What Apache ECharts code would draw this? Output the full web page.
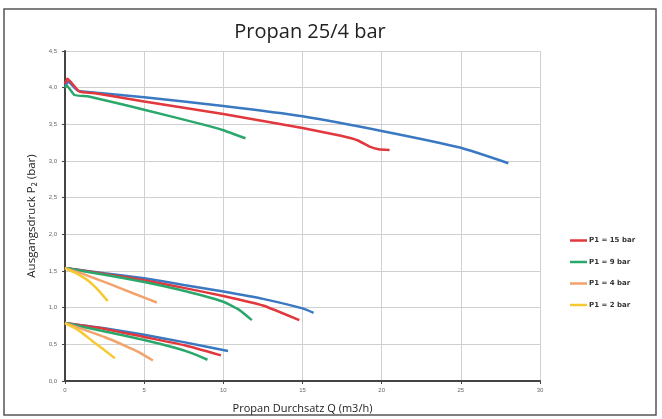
<!DOCTYPE html>
<html><head><meta charset="utf-8">
<script src="https://cdn.jsdelivr.net/npm/echarts@6/dist/echarts.min.js"></script>
<style>html,body{margin:0;padding:0;background:#fff}#c{width:662px;height:419px}</style>
</head><body><div id="c"></div>
<script>
const xTicks = [0, 5, 10, 15, 20, 25, 30];
const yTicks = ['0,0','0,5','1,0','1,5','2,0','2,5','3,0','3,5','4,0','4,5'];
const legendNames = ['P1 = 15 bar', 'P1 = 9 bar', 'P1 = 4 bar', 'P1 = 2 bar'];

// top group (~4 bar)
const blueTop = [[0,4.02],[0.2,4.08],[0.8,3.96],[2,3.93],[5,3.87],[10,3.75],[15,3.61],[20,3.41],[25,3.18],[28,2.97]];
const redTop = [[0,4.05],[0.15,4.12],[0.9,3.95],[2,3.92],[5,3.81],[10,3.64],[15,3.45],[17.5,3.34],[18.5,3.28],[19.2,3.20],[19.8,3.16],[20.5,3.15]];
const greenTop = [[0,4.0],[0.1,4.03],[0.6,3.90],[1.5,3.88],[5,3.70],[8.5,3.51],[10,3.42],[11.4,3.31]];

// middle group (~1.5 bar)
const blueMid = [[0,1.54],[2.5,1.47],[5,1.40],[7.5,1.31],[10,1.22],[12.5,1.12],[15,0.99],[15.7,0.93]];
const redMid = [[0,1.54],[2.5,1.46],[5,1.375],[7.5,1.27],[10,1.16],[12.5,1.03],[14.8,0.83]];
const greenMid = [[0,1.54],[2.5,1.45],[5,1.35],[7.5,1.23],[10,1.08],[11,0.97],[11.8,0.83]];
const orangeMid = [[0,1.54],[1,1.47],[2.85,1.32],[4.5,1.18],[5.8,1.07]];
const yellowMid = [[0,1.54],[0.7,1.47],[1.45,1.37],[2.1,1.24],[2.7,1.09]];

// lower group (~0.75 bar)
const blueLow = [[0,0.79],[2.5,0.72],[5,0.63],[7.5,0.53],[10.3,0.41]];
const redLow = [[0,0.79],[2.5,0.71],[5,0.60],[7.5,0.49],[9.85,0.35]];
const greenLow = [[0,0.79],[2,0.70],[5,0.56],[7,0.45],[8,0.38],[9,0.29]];
const orangeLow = [[0,0.79],[1.2,0.70],[2.5,0.60],[3.8,0.48],[4.6,0.40],[5.55,0.28]];
const yellowLow = [[0,0.79],[0.8,0.70],[1.7,0.55],[2.5,0.42],[3.15,0.31]];

const C = {blue:'#3a79c2', red:'#e2373d', green:'#2aa86c', orange:'#f2a26c', yellow:'#f6c932'};

function s(name, data, color) {
  return {name, type:'line', data, smooth:0.15, showSymbol:false, symbol:'none',
    lineStyle:{color, width:2.5}, itemStyle:{color}, z:3};
}

const chart = echarts.init(document.getElementById('c'));
chart.setOption({
  animation:false,
  backgroundColor:'#fff',
  title:{text:'Propan 25/4 bar', left:305, textAlign:'center', top:17,
    textStyle:{fontFamily:'Open Sans', fontSize:20, fontWeight:'normal', color:'#222'}},
  graphic:[{type:'rect', shape:{x:4, y:9, width:652, height:406},
    style:{fill:'none', stroke:'#555', lineWidth:1.5}, z:-1}],
  legend:{data:legendNames, orient:'vertical', left:565, top:232, itemGap:14.5,
    icon:'rect', itemWidth:17, itemHeight:2.5,
    textStyle:{fontFamily:'DejaVu Sans', fontSize:7, fontWeight:'bold', color:'#333', padding:[0,0,0,-3]}},
  grid:{left:65, right:122, top:51, bottom:31},
  xAxis:{type:'value', min:0, max:30, interval:5,
    name:'Propan Durchsatz Q (m3/h)', nameLocation:'middle', nameGap:22,
    nameTextStyle:{fontFamily:'Open Sans', fontSize:11, color:'#222'},
    axisLine:{lineStyle:{color:'#444', width:2}},
    axisTick:{show:true, length:3, lineStyle:{color:'#444'}},
    axisLabel:{fontSize:6, color:'#666', margin:6, formatter:v=>String(v)},
    splitLine:{show:true, lineStyle:{color:'#d0d0d0', width:1}}},
  yAxis:{type:'value', min:0, max:4.5, interval:0.5,
    name:'Ausgangsdruck P\u2082 (bar)', nameLocation:'middle', nameGap:27,
    nameTextStyle:{fontFamily:'Open Sans', fontSize:11.5, color:'#222'},
    axisLine:{show:true, lineStyle:{color:'#444', width:2}},
    axisTick:{show:true, length:3, lineStyle:{color:'#444'}},
    axisLabel:{fontSize:6, color:'#666', margin:8, formatter:v=>yTicks[Math.round(v*2)]},
    splitLine:{show:true, lineStyle:{color:'#d0d0d0', width:1}}},
  series:[
    s('P25', blueTop, C.blue), s('P25', blueMid, C.blue), s('P25', blueLow, C.blue),
    s(legendNames[0], redTop, C.red), s(legendNames[0], redMid, C.red), s(legendNames[0], redLow, C.red),
    s(legendNames[1], greenTop, C.green), s(legendNames[1], greenMid, C.green), s(legendNames[1], greenLow, C.green),
    s(legendNames[2], orangeMid, C.orange), s(legendNames[2], orangeLow, C.orange),
    s(legendNames[3], yellowMid, C.yellow), s(legendNames[3], yellowLow, C.yellow)
  ]
});
</script></body></html>
